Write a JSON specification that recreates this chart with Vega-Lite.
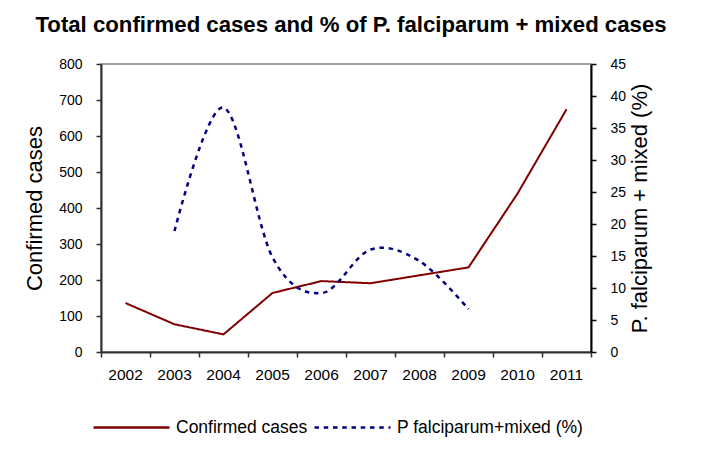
{
  "$schema": "https://vega.github.io/schema/vega-lite/v6.json",
  "width": 490,
  "height": 288,
  "autosize": {"type": "none"},
  "padding": {"left": 101, "top": 64, "right": 124, "bottom": 98},
  "background": "white",
  "config": {
    "font": "Liberation Sans",
    "view": {"stroke": "#808080", "strokeWidth": 1.5},
    "axis": {"grid": false, "labelColor": "black", "titleColor": "black", "labelFont": "Liberation Sans", "titleFont": "Liberation Sans", "titleFontWeight": "normal", "domainColor": "#303030", "tickColor": "#303030", "domainWidth": 2, "tickWidth": 1.5}
  },
  "title": {"text": "Total confirmed cases and % of P. falciparum + mixed cases", "font": "Liberation Sans", "fontSize": 22.2, "fontWeight": "bold", "color": "black", "anchor": "middle", "baseline": "alphabetic", "offset": 3, "dx": 5},
  "data": {"values": [
    {"year": "2002", "series": "Confirmed cases", "value": 136},
    {"year": "2003", "series": "Confirmed cases", "value": 77},
    {"year": "2004", "series": "Confirmed cases", "value": 49},
    {"year": "2005", "series": "Confirmed cases", "value": 164},
    {"year": "2006", "series": "Confirmed cases", "value": 197},
    {"year": "2007", "series": "Confirmed cases", "value": 191},
    {"year": "2008", "series": "Confirmed cases", "value": 213},
    {"year": "2009", "series": "Confirmed cases", "value": 235},
    {"year": "2010", "series": "Confirmed cases", "value": 440},
    {"year": "2011", "series": "Confirmed cases", "value": 674},
    {"year": "2003", "series": "P falciparum+mixed (%)", "value": 18.9},
    {"year": "2004", "series": "P falciparum+mixed (%)", "value": 38.2},
    {"year": "2005", "series": "P falciparum+mixed (%)", "value": 14.8},
    {"year": "2006", "series": "P falciparum+mixed (%)", "value": 9.2},
    {"year": "2007", "series": "P falciparum+mixed (%)", "value": 16.0},
    {"year": "2008", "series": "P falciparum+mixed (%)", "value": 14.2},
    {"year": "2009", "series": "P falciparum+mixed (%)", "value": 6.7}
  ]},
  "encoding": {
    "x": {"field": "year", "type": "ordinal", "scale": {"type": "band", "paddingInner": 0, "paddingOuter": 0},
      "axis": {"title": null, "labelAngle": 0, "labelFontSize": 15.5, "labelPadding": 10, "tickSize": 5, "bandPosition": 1, "tickExtra": true}},
    "color": {"field": "series", "type": "nominal",
      "scale": {"domain": ["Confirmed cases", "P falciparum+mixed (%)"], "range": ["#800000", "#000080"]},
      "legend": {"title": null, "orient": "none", "legendX": -9, "legendY": 324, "direction": "horizontal", "symbolType": "stroke", "symbolSize": 5776, "symbolStrokeWidth": 2.5, "labelFontSize": 17.5, "labelColor": "black", "labelFont": "Liberation Sans", "labelLimit": 0, "labelOffset": 5, "columnPadding": 1, "padding": 0}},
    "strokeDash": {"field": "series", "type": "nominal",
      "scale": {"domain": ["Confirmed cases", "P falciparum+mixed (%)"], "range": [[1, 0], [4.5, 4.75]]},
      "legend": {"title": null}}
  },
  "layer": [
    {
      "transform": [{"filter": "datum.series === 'Confirmed cases'"}],
      "mark": {"type": "line", "strokeWidth": 2},
      "encoding": {
        "y": {"field": "value", "type": "quantitative", "scale": {"domain": [0, 800]},
          "axis": {"title": "Confirmed cases", "titleFontSize": 22, "titlePadding": 12, "values": [0, 100, 200, 300, 400, 500, 600, 700, 800], "labelFontSize": 14, "labelPadding": 14, "tickSize": 5}}
      }
    },
    {
      "transform": [{"filter": "datum.series === 'P falciparum+mixed (%)'"}],
      "mark": {"type": "line", "strokeWidth": 2.5, "interpolate": "cardinal", "tension": 0},
      "encoding": {
        "y": {"field": "value", "type": "quantitative", "scale": {"domain": [0, 45]},
          "axis": {"orient": "right", "title": "P. falciparum + mixed (%)", "titleAngle": 270, "titleBaseline": "top", "titleFontSize": 22, "titlePadding": 4, "values": [0, 5, 10, 15, 20, 25, 30, 35, 40, 45], "labelFontSize": 14, "labelPadding": 14, "tickSize": 5, "domainColor": "black", "tickColor": "black"}}
      }
    }
  ],
  "resolve": {"scale": {"y": "independent"}}
}
